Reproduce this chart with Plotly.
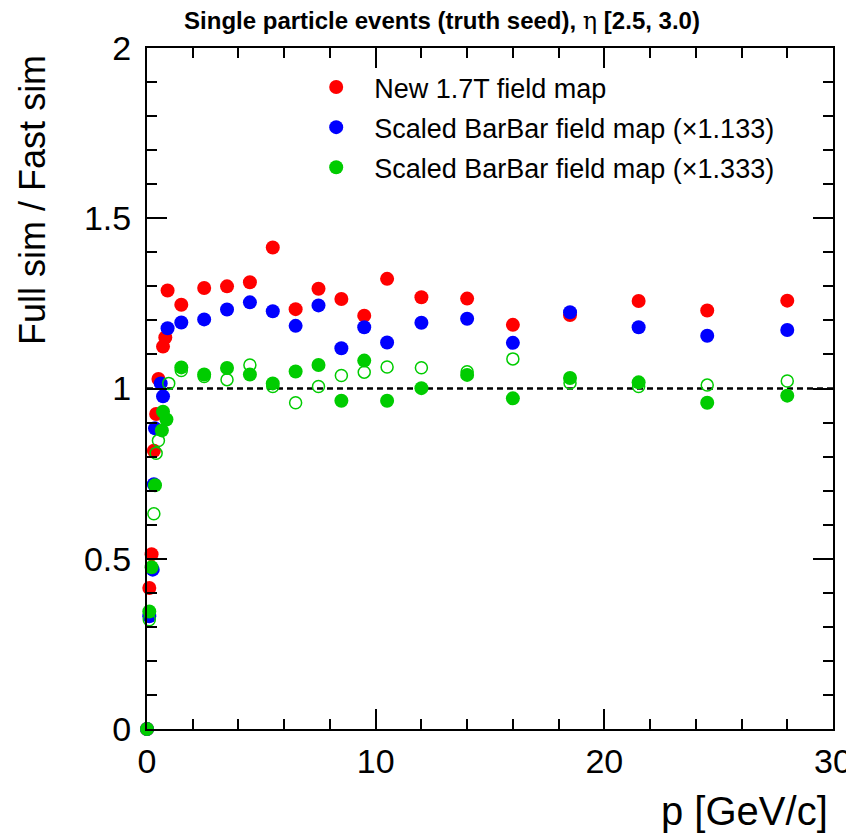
import plotly.graph_objects as go

# ---- data ----
P_NEW = [0, 0.1, 0.2, 0.3, 0.4, 0.5, 0.7, 0.8, 0.9, 1.5, 2.5, 3.5, 4.5, 5.5, 6.5, 7.5, 8.5, 9.5, 10.5, 12, 14, 16, 18.5, 21.5, 24.5, 28]
R_NEW = [0, 0.414, 0.513, 0.817, 0.925, 1.028, 1.123, 1.15, 1.288, 1.246, 1.295, 1.300, 1.312, 1.414, 1.233, 1.293, 1.263, 1.214, 1.322, 1.268, 1.264, 1.187, 1.216, 1.257, 1.229, 1.258]

P_BB1133 = [0, 0.1, 0.25, 0.3, 0.35, 0.6, 0.7, 0.9, 1.5, 2.5, 3.5, 4.5, 5.5, 6.5, 7.5, 8.5, 9.5, 10.5, 12, 14, 16, 18.5, 21.5, 24.5, 28]
R_BB1133 = [0, 0.331, 0.468, 0.719, 0.883, 1.015, 0.977, 1.177, 1.194, 1.203, 1.232, 1.253, 1.227, 1.184, 1.244, 1.118, 1.18, 1.135, 1.193, 1.205, 1.134, 1.224, 1.18, 1.155, 1.172]

P_BB1333 = [0, 0.1, 0.2, 0.35, 0.65, 0.7, 0.85, 1.5, 2.5, 3.5, 4.5, 5.5, 6.5, 7.5, 8.5, 9.5, 10.5, 12, 14, 16, 18.5, 21.5, 24.5, 28]
R_BB1333 = [0, 0.345, 0.475, 0.716, 0.877, 0.932, 0.909, 1.062, 1.041, 1.06, 1.041, 1.015, 1.05, 1.069, 0.964, 1.082, 0.964, 1.001, 1.04, 0.971, 1.031, 1.018, 0.958, 0.979]

P_OPEN = [0.1, 0.3, 0.4, 0.5, 0.95, 1.5, 2.5, 3.5, 4.5, 5.5, 6.5, 7.5, 8.5, 9.5, 10.5, 12, 14, 16, 18.5, 21.5, 24.5, 28]
R_OPEN = [0.321, 0.632, 0.81, 0.847, 1.015, 1.053, 1.035, 1.026, 1.069, 1.006, 0.958, 1.006, 1.038, 1.048, 1.063, 1.061, 1.049, 1.087, 1.016, 1.006, 1.01, 1.022]

REF_LEVEL = 1.0
NAMES = ["New 1.7T field map", "Scaled BarBar field map (\u00d71.133)", "Scaled BarBar field map (\u00d71.333)"]
TITLE = "Single particle events (truth seed), <span style=\"font-family:'DejaVu Serif';font-weight:normal\">\u03b7</span> [2.5, 3.0)"
X_TITLE = "p [GeV/c]"
Y_TITLE = "Full sim / Fast sim"

RED, BLUE, GREEN = "#ff0000", "#0000ff", "#00cc00"
FONT = "Liberation Sans, Arial, Helvetica, sans-serif"

fig = go.Figure()
fig.add_trace(go.Scatter(x=P_NEW, y=R_NEW, mode="markers", name=NAMES[0], legendgroup="a",
                         marker=dict(color=RED, size=14, line=dict(width=0)), cliponaxis=False))
fig.add_trace(go.Scatter(x=P_BB1133, y=R_BB1133, mode="markers", name=NAMES[1], legendgroup="b",
                         marker=dict(color=BLUE, size=14, line=dict(width=0)), cliponaxis=False))
fig.add_trace(go.Scatter(x=P_OPEN, y=R_OPEN, mode="markers", showlegend=False, legendgroup="d",
                         marker=dict(color=GREEN, size=12, symbol="circle-open", line=dict(width=1.5, color=GREEN)),
                         cliponaxis=False))
fig.add_trace(go.Scatter(x=P_BB1333, y=R_BB1333, mode="markers", name=NAMES[2], legendgroup="c",
                         marker=dict(color=GREEN, size=14, line=dict(width=0)), cliponaxis=False))

fig.add_shape(type="line", xref="paper", yref="y", x0=0, x1=1, y0=REF_LEVEL, y1=REF_LEVEL,
              line=dict(color="black", width=2.5, dash="6px,4px"), layer="below")

axis_common = dict(showline=True, linecolor="black", linewidth=2, mirror="allticks", ticks="inside",
                   tickcolor="black", tickwidth=1.5, ticklen=20, showgrid=False, zeroline=False,
                   tickfont=dict(family=FONT, size=34, color="black"))

fig.update_xaxes(range=[0, 30], dtick=10, tick0=0, ticklabelstandoff=1,
                 minor=dict(dtick=2, ticks="inside", ticklen=10, tickcolor="black", tickwidth=1.5, showgrid=False),
                 **axis_common)
fig.update_yaxes(range=[0, 2], dtick=0.5, tick0=0, ticklabelstandoff=7,
                 minor=dict(dtick=0.1, ticks="inside", ticklen=10, tickcolor="black", tickwidth=1.5, showgrid=False),
                 **axis_common)

fig.add_annotation(text=X_TITLE, xref="paper", yref="paper", x=0.996, y=-0.121, xanchor="right", yanchor="middle",
                   showarrow=False, font=dict(family=FONT, size=40, color="black"))
fig.add_annotation(text=Y_TITLE, xref="paper", yref="paper", x=-0.166, y=0.993, xanchor="center", yanchor="top",
                   textangle=-90, showarrow=False, font=dict(family=FONT, size=36, color="black"))

# page has an 8px body margin, so the figure is 8px smaller than the window on each axis
fig.update_layout(
    width=846, height=825,
    margin=dict(l=139, r=21, t=40, b=104, autoexpand=False),
    paper_bgcolor="white", plot_bgcolor="white",
    title=dict(text=TITLE, xref="container", yref="container", x=0.513, y=0.985,
               xanchor="center", yanchor="middle",
               font=dict(family=FONT, size=24, color="black", weight="bold")),
    legend=dict(x=0.2204, y=0.978, xanchor="left", yanchor="top", bgcolor="rgba(0,0,0,0)",
                font=dict(family=FONT, size=27, color="black"), traceorder="grouped",
                tracegroupgap=2, itemwidth=66),
    showlegend=True,
)

fig.write_html("out.html")
